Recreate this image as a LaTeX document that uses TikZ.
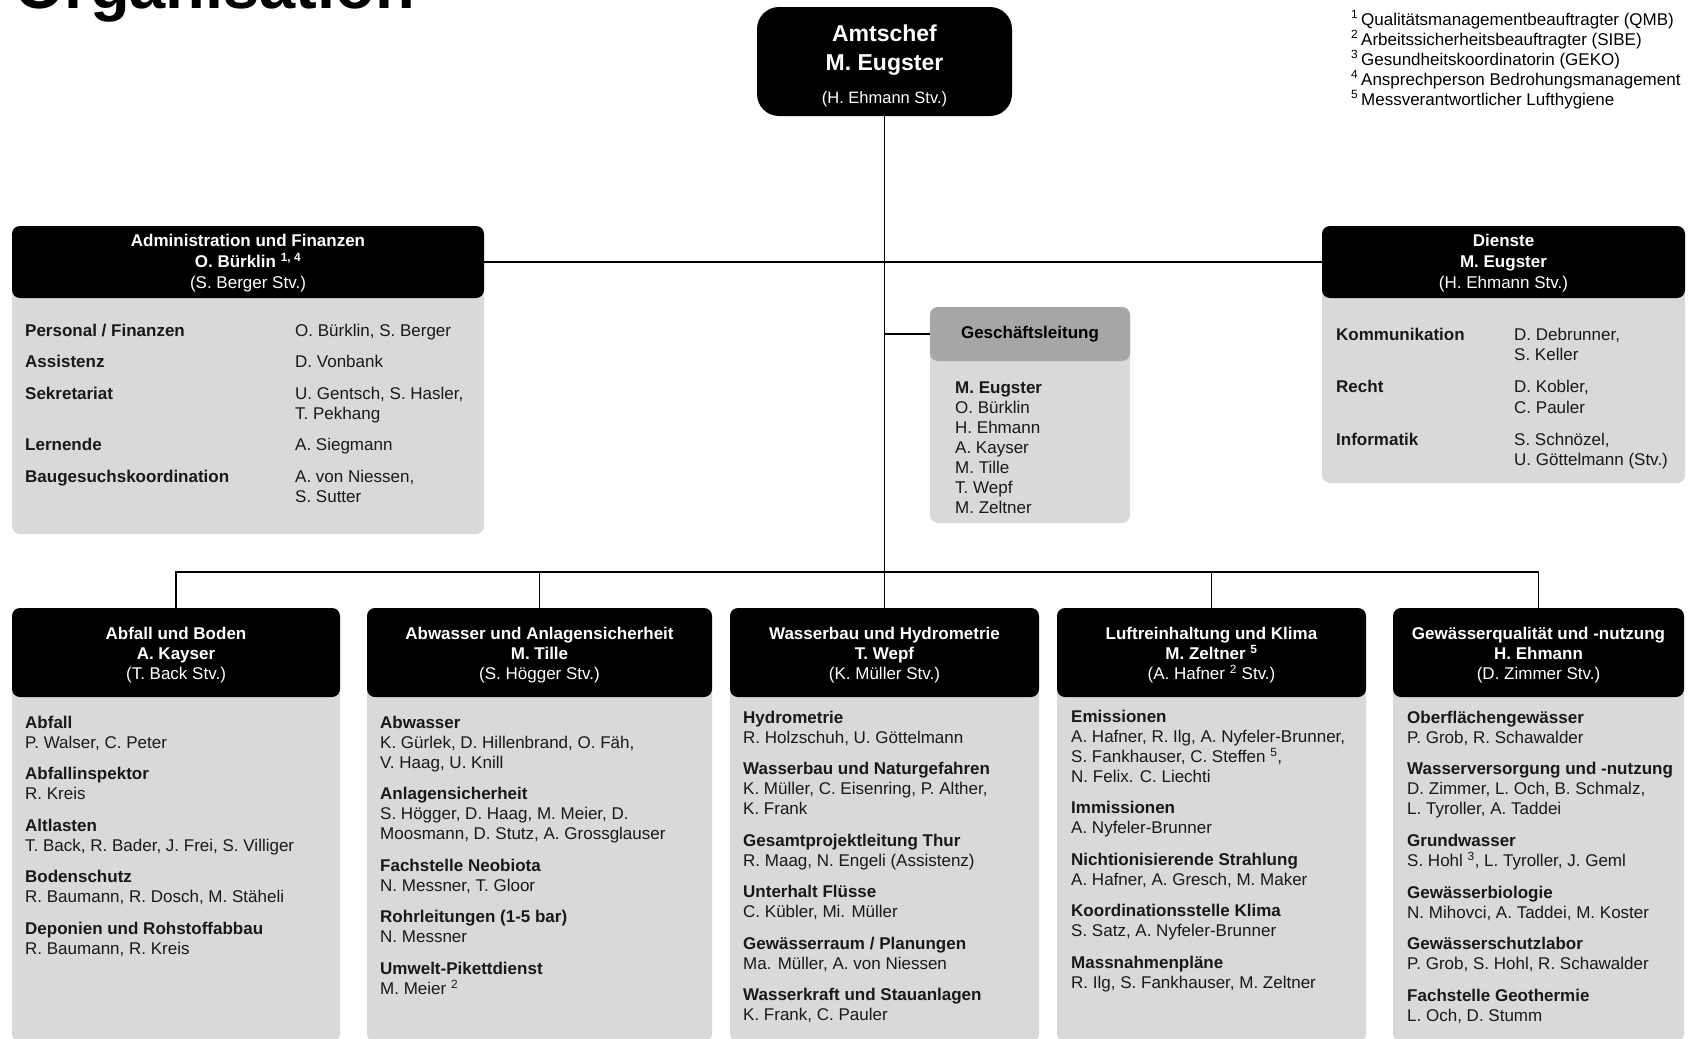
\documentclass[tikz,border=0pt]{standalone}
\usepackage{fontspec}
\setmainfont{Liberation Sans}
\definecolor{boxgrau}{HTML}{D9D9D9}
\definecolor{glgrau}{HTML}{A6A6A6}
\newcommand\oben[1]{\rule{0pt}{#1}}

\begin{document}
\begin{tikzpicture}[x=1pt, y=-1pt,
    kopf/.style={fill=black, text=white, rounded corners=8pt, inner sep=0pt, outer sep=0pt,
      align=center, anchor=north west, font=\fontsize{17}{20}\selectfont},
    koerper/.style={fill=boxgrau, rounded corners=8pt, inner sep=0pt, outer sep=0pt, anchor=north west},
    liste/.style={anchor=base west, inner sep=0pt, text=black!90, font=\fontsize{17}{20}\selectfont},
    linie/.style={line width=1.6pt}]
  \path[use as bounding box, fill=white] (0,0) rectangle (1690,1039);

  % Titel und Fussnoten
  \node[anchor=base west, inner sep=0pt, font=\fontsize{65}{70}\selectfont\bfseries] (titel) at (14,8) {Organisation};
  \node[liste, text=black, font=\fontsize{17}{18.3}\selectfont] (fussnoten) at (1351,25) {\begin{tabular}[t]{@{}l@{}}
    \textsuperscript{1}\,Qualitätsmanagementbeauftragter (QMB)\\
    \textsuperscript{2}\,Arbeitssicherheitsbeauftragter (SIBE)\\
    \textsuperscript{3}\,Gesundheitskoordinatorin (GEKO)\\
    \textsuperscript{4}\,Ansprechperson Bedrohungsmanagement\\
    \textsuperscript{5}\,Messverantwortlicher Lufthygiene
  \end{tabular}};

  % Amtschef
  \node[fill=black, rounded corners=22pt, inner sep=0pt, outer sep=0pt, minimum width=255pt, minimum height=109pt] (chef) at (884.5,61.5) {};
  \node[anchor=base, inner sep=0pt, text=white] (cheftext) at (884.5,41) {\fontsize{23}{29}\selectfont\begin{tabular}[t]{@{}c@{}}
    \bfseries Amtschef\\ \bfseries M. Eugster\\[4pt] \fontsize{16.5}{20}\selectfont (H. Ehmann Stv.)
  \end{tabular}};

  % Administration und Finanzen
  \node[koerper, minimum width=472pt, minimum height=308pt] (adminbody) at (12,226) {};
  \node[kopf, font=\fontsize{17}{21}\selectfont, minimum width=472pt, minimum height=72pt] (admin) at (12,226)
    {\oben{14.5pt}\textbf{Administration und Finanzen}\\\textbf{O. Bürklin \textsuperscript{1, 4}}\\(S. Berger Stv.)};
  \node[liste] (admintext) at (25,336) {\begin{tabular}[t]{@{}p{270pt}@{}l@{}}
    \textbf{Personal / Finanzen} & O. Bürklin, S. Berger\\[11.5pt]
    \textbf{Assistenz} & D. Vonbank\\[11.5pt]
    \textbf{Sekretariat} & U. Gentsch, S. Hasler,\\ & T. Pekhang\\[11.5pt]
    \textbf{Lernende} & A. Siegmann\\[11.5pt]
    \textbf{Baugesuchskoordination} & A. von Niessen,\\ & S. Sutter
  \end{tabular}};

  % Geschaeftsleitung
  \node[koerper, minimum width=200pt, minimum height=216pt] (glbody) at (930,307) {};
  \node[kopf, fill=glgrau, text=black, font=\fontsize{17}{20}\selectfont\bfseries, minimum width=200pt, minimum height=54pt] (gl) at (930,307) {Geschäftsleitung};
  \node[liste] (gltext) at (955,393) {\begin{tabular}[t]{@{}l@{}}
    \textbf{M. Eugster}\\ O. Bürklin\\ H. Ehmann\\ A. Kayser\\ M. Tille\\ T. Wepf\\ M. Zeltner
  \end{tabular}};

  % Dienste
  \node[koerper, minimum width=363pt, minimum height=257pt] (diensteb) at (1322,226) {};
  \node[kopf, font=\fontsize{17}{21}\selectfont, minimum width=363pt, minimum height=72pt] (dienste) at (1322,226)
    {\oben{14.5pt}\textbf{Dienste}\\\textbf{M. Eugster}\\(H. Ehmann Stv.)};
  \node[liste, font=\fontsize{17}{20.5}\selectfont] (dienstetext) at (1336,340) {\begin{tabular}[t]{@{}p{178pt}@{}l@{}}
    \textbf{Kommunikation} & D. Debrunner,\\ & S. Keller\\[11.5pt]
    \textbf{Recht} & D. Kobler,\\ & C. Pauler\\[11.5pt]
    \textbf{Informatik} & S. Schnözel,\\ & U. Göttelmann (Stv.)
  \end{tabular}};

  % Abteilungen
  \node[koerper, minimum width=328pt, minimum height=434pt] (abfallb) at (12,608) {};
  \node[kopf, minimum width=328pt, minimum height=89pt] (abfall) at (12,608)
    {\oben{17.5pt}\textbf{Abfall und Boden}\\\textbf{A. Kayser}\\(T. Back Stv.)};
  \node[liste] (abfalltext) at (25,728) {\begin{tabular}[t]{@{}l@{}}
    \textbf{Abfall}\\ P. Walser, C. Peter\\[11.5pt]
    \textbf{Abfallinspektor}\\ R. Kreis\\[11.5pt]
    \textbf{Altlasten}\\ T. Back, R. Bader, J. Frei, S. Villiger\\[11.5pt]
    \textbf{Bodenschutz}\\ R. Baumann, R. Dosch, M. Stäheli\\[11.5pt]
    \textbf{Deponien und Rohstoffabbau}\\ R. Baumann, R. Kreis
  \end{tabular}};

  \node[koerper, minimum width=345pt, minimum height=434pt] (abwasserb) at (367,608) {};
  \node[kopf, minimum width=345pt, minimum height=89pt] (abwasser) at (367,608)
    {\oben{17.5pt}\textbf{Abwasser und Anlagensicherheit}\\\textbf{M. Tille}\\(S. Högger Stv.)};
  \node[liste] (abwassertext) at (380,728) {\begin{tabular}[t]{@{}l@{}}
    \textbf{Abwasser}\\ K. Gürlek, D. Hillenbrand, O. Fäh,\\ V. Haag, U. Knill\\[11.5pt]
    \textbf{Anlagensicherheit}\\ S. Högger, D. Haag, M. Meier, D.\\ Moosmann, D. Stutz, A. Grossglauser\\[11.5pt]
    \textbf{Fachstelle Neobiota}\\ N. Messner, T. Gloor\\[11.5pt]
    \textbf{Rohrleitungen (1-5 bar)}\\ N. Messner\\[11.5pt]
    \textbf{Umwelt-Pikettdienst}\\ M. Meier \textsuperscript{2}
  \end{tabular}};

  \node[koerper, minimum width=309pt, minimum height=434pt] (wasserbaub) at (730,608) {};
  \node[kopf, minimum width=309pt, minimum height=89pt] (wasserbau) at (730,608)
    {\oben{17.5pt}\textbf{Wasserbau und Hydrometrie}\\\textbf{T. Wepf}\\(K. Müller Stv.)};
  \node[liste] (wasserbautext) at (743,723) {\begin{tabular}[t]{@{}l@{}}
    \textbf{Hydrometrie}\\ R. Holzschuh, U. Göttelmann\\[11.5pt]
    \textbf{Wasserbau und Naturgefahren}\\ K. Müller, C. Eisenring, P. Alther,\\ K. Frank\\[11.5pt]
    \textbf{Gesamtprojektleitung Thur}\\ R. Maag, N. Engeli (Assistenz)\\[11.5pt]
    \textbf{Unterhalt Flüsse}\\ C. Kübler, Mi. Müller\\[11.5pt]
    \textbf{Gewässerraum / Planungen}\\ Ma. Müller, A. von Niessen\\[11.5pt]
    \textbf{Wasserkraft und Stauanlagen}\\ K. Frank, C. Pauler
  \end{tabular}};

  \node[koerper, minimum width=309pt, minimum height=434pt] (luftb) at (1057,608) {};
  \node[kopf, minimum width=309pt, minimum height=89pt] (luft) at (1057,608)
    {\oben{17.5pt}\textbf{Luftreinhaltung und Klima}\\\textbf{M. Zeltner \textsuperscript{5}}\\(A. Hafner \textsuperscript{2} Stv.)};
  \node[liste] (lufttext) at (1071,722) {\begin{tabular}[t]{@{}l@{}}
    \textbf{Emissionen}\\ A. Hafner, R. Ilg, A. Nyfeler-Brunner,\\ S. Fankhauser, C. Steffen \textsuperscript{5},\\ N. Felix. C. Liechti\\[11.5pt]
    \textbf{Immissionen}\\ A. Nyfeler-Brunner\\[11.5pt]
    \textbf{Nichtionisierende Strahlung}\\ A. Hafner, A. Gresch, M. Maker\\[11.5pt]
    \textbf{Koordinationsstelle Klima}\\ S. Satz, A. Nyfeler-Brunner\\[11.5pt]
    \textbf{Massnahmenpläne}\\ R. Ilg, S. Fankhauser, M. Zeltner
  \end{tabular}};

  \node[koerper, minimum width=291pt, minimum height=434pt] (gewqualb) at (1393,608) {};
  \node[kopf, minimum width=291pt, minimum height=89pt] (gewqual) at (1393,608)
    {\oben{17.5pt}\textbf{Gewässerqualität und -nutzung}\\\textbf{H. Ehmann}\\(D. Zimmer Stv.)};
  \node[liste] (gewqualtext) at (1407,723) {\begin{tabular}[t]{@{}l@{}}
    \textbf{Oberflächengewässer}\\ P. Grob, R. Schawalder\\[11.5pt]
    \textbf{Wasserversorgung und -nutzung}\\ D. Zimmer, L. Och, B. Schmalz,\\ L. Tyroller, A. Taddei\\[11.5pt]
    \textbf{Grundwasser}\\ S. Hohl \textsuperscript{3}, L. Tyroller, J. Geml\\[11.5pt]
    \textbf{Gewässerbiologie}\\ N. Mihovci, A. Taddei, M. Koster\\[11.5pt]
    \textbf{Gewässerschutzlabor}\\ P. Grob, S. Hohl, R. Schawalder\\[11.5pt]
    \textbf{Fachstelle Geothermie}\\ L. Och, D. Stumm
  \end{tabular}};

  % Verbindungen
  \coordinate (bus) at (884.5,572);
  \draw[linie] (chef.south) -- (bus);
  \draw[linie] (admin.east) -- (dienste.west);
  \draw[linie] (chef.south |- gl.west) -- (gl.west);
  \draw[linie] (abfall.north) |- (bus) -| (gewqual.north);
  \foreach \n in {abwasser, wasserbau, luft}
    \draw[linie] (\n.north) -- (\n.north |- bus);
\end{tikzpicture}
\end{document}
